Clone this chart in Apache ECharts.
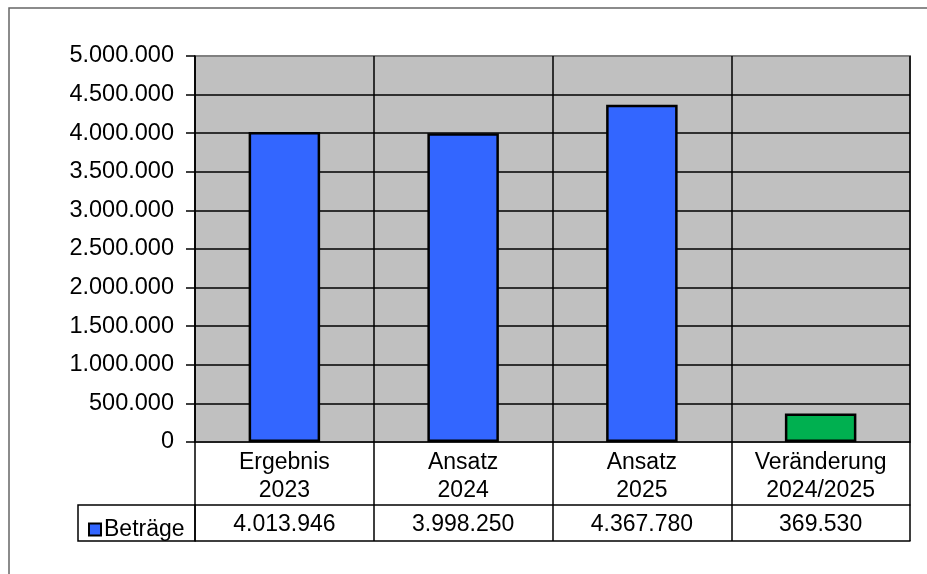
<!DOCTYPE html>
<html>
<head>
<meta charset="utf-8">
<script src="https://cdn.jsdelivr.net/npm/echarts@6/dist/echarts.min.js"></script>
<style>
  html, body { margin: 0; padding: 0; background: #fff; }
  #chart { width: 927px; height: 574px; }
</style>
</head>
<body>
<div id="chart"></div>
<script>
// data
const categories = ['Ergebnis\n2023', 'Ansatz\n2024', 'Ansatz\n2025', 'Veränderung\n2024/2025']
const betraege = [4013946, 3998250, 4367780, 369530]
const barColors = ['#3366FF', '#3366FF', '#3366FF', '#00B050']
const seriesName = 'Beträge'

const FONT = '"Liberation Sans", Arial, sans-serif'

// 4013946 -> 4.013.946
function deFmt(v) {
    return String(Math.round(v)).replace(/\B(?=(\d{3})+(?!\d))/g, '.')
}

// gridlines black, the top one is the grey plot border (bottom one is hidden by the x axis)
var gridColors = ['#808080', '#000', '#000', '#000', '#000', '#000', '#000', '#000', '#000', '#000', '#808080']

var chartDom = document.getElementById('chart');
var myChart = echarts.init(chartDom);

var option = {
    animation: false,
    textStyle: { fontFamily: FONT, color: '#000' },
    grid: {
        left: 195,
        top: 56,
        width: 715,
        height: 386,
        show: true,
        backgroundColor: '#C0C0C0',
        borderColor: '#808080',
        borderWidth: 2
    },
    legend: {
        left: 83,
        top: 513,
        icon: 'rect',
        itemWidth: 12,
        itemHeight: 12,
        itemGap: 0,
        itemStyle: { borderColor: '#000', borderWidth: 2 },
        textStyle: { fontFamily: FONT, fontSize: 23, color: '#000', padding: [0, 0, 0, -2] },
        data: [seriesName]
    },
    xAxis: [
        {
            type: 'category',
            data: categories,
            position: 'bottom',
            axisLine: { show: true, lineStyle: { color: '#000', width: 1.5 } },
            axisTick: { show: true, alignWithLabel: false, length: 99, lineStyle: { color: '#000', width: 1.5 } },
            splitLine: { show: true, interval: 0, lineStyle: { color: '#000', width: 1.5 } },
            axisLabel: {
                interval: 0,
                margin: 7,
                fontFamily: FONT,
                fontSize: 23,
                lineHeight: 28,
                color: '#000'
            }
        },
        {
            type: 'category',
            data: categories,
            position: 'bottom',
            offset: 63,
            axisLine: { show: true, lineStyle: { color: '#000', width: 1.5 } },
            axisTick: { show: false },
            axisLabel: {
                interval: 0,
                margin: 8,
                fontFamily: FONT,
                fontSize: 23,
                color: '#000',
                formatter: function (v, i) { return deFmt(betraege[i]) }
            }
        },
        {
            type: 'category',
            data: categories,
            position: 'bottom',
            offset: 99,
            axisLine: { show: true, lineStyle: { color: '#000', width: 1.5 } },
            axisTick: { show: false },
            axisLabel: { show: false }
        }
    ],
    yAxis: {
        type: 'value',
        min: 0,
        max: 5000000,
        interval: 500000,
        axisLine: { show: true, lineStyle: { color: '#000', width: 1.5 } },
        axisTick: { show: true, length: 9, lineStyle: { color: '#000', width: 1.5 } },
        splitLine: { show: true, lineStyle: { color: gridColors, width: 1.5 } },
        axisLabel: {
            margin: 21,
            fontFamily: FONT,
            fontSize: 23.5,
            color: '#000',
            formatter: deFmt
        }
    },
    graphic: [
        {
            // outer chart frame
            type: 'rect',
            shape: { x: 9, y: 8, width: 940, height: 600 },
            style: { fill: 'none', stroke: '#666', lineWidth: 1.5 },
            silent: true
        },
        {
            // legend cell of the data table
            type: 'rect',
            shape: { x: 78, y: 505, width: 117, height: 36 },
            style: { fill: 'none', stroke: '#000', lineWidth: 1.5 },
            silent: true
        }
    ],
    series: [
        {
            name: seriesName,
            type: 'bar',
            barWidth: '40%',
            itemStyle: { color: '#3366FF', borderColor: '#000', borderWidth: 2.5 },
            data: betraege.map(function (v, i) {
                return { value: v, itemStyle: { color: barColors[i] } }
            })
        }
    ]
};

option && myChart.setOption(option);
</script>
</body>
</html>
